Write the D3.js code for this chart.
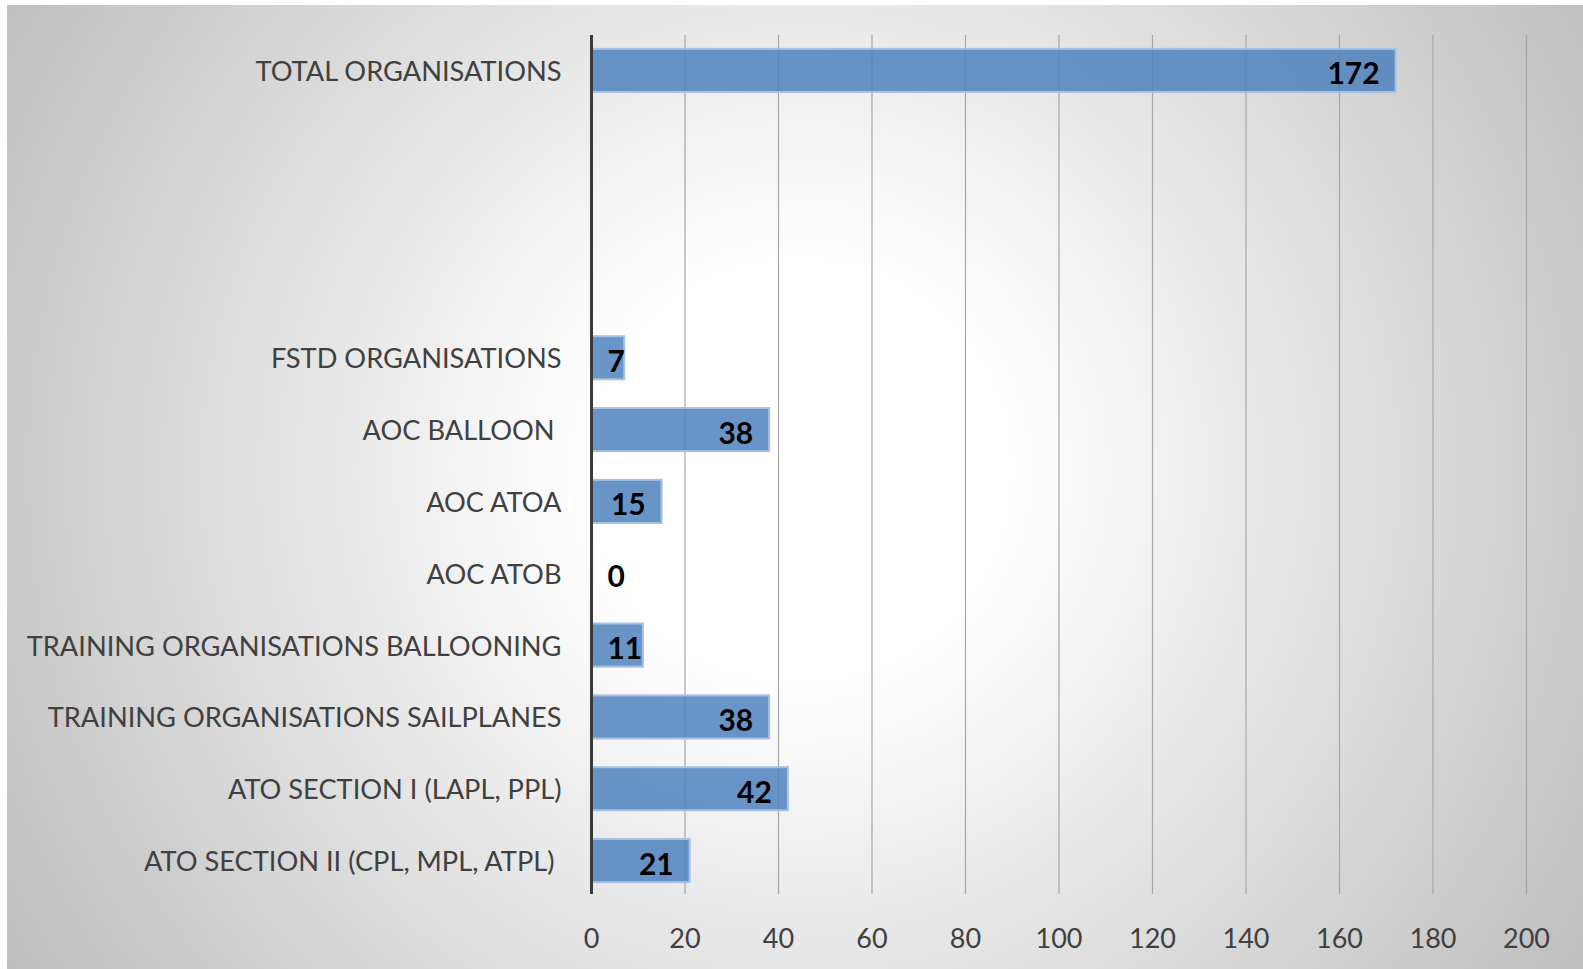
<!DOCTYPE html>
<html>
<head>
<meta charset="utf-8">
<script src="https://cdn.jsdelivr.net/npm/d3@7"></script>
<style>
  html, body { margin: 0; padding: 0; background: #fff; }
  svg { display: block; }
  text { white-space: pre; }
</style>
</head>
<body>
<div id="chart"></div>
<script>
// categories top to bottom (blank rows are empty categories in the source sheet)
var categories = [
  "TOTAL ORGANISATIONS",
  "", "", "",
  "FSTD ORGANISATIONS",
  "AOC BALLOON ",
  "AOC ATOA",
  "AOC ATOB",
  "TRAINING ORGANISATIONS BALLOONING",
  "TRAINING ORGANISATIONS SAILPLANES",
  "ATO SECTION I (LAPL, PPL)",
  "ATO SECTION II (CPL, MPL, ATPL) "
];
var values = [172, null, null, null, 7, 38, 15, 0, 11, 38, 42, 21];
var ticks = [0, 20, 40, 60, 80, 100, 120, 140, 160, 180, 200];

var width = 1583;
var height = 969;
var fontFamily = "Lato, 'Open Sans', sans-serif";

var svg = d3.select("#chart").append("svg")
  .attr("width", width)
  .attr("height", height);

// background with radial gradient like the office chart style
var defs = svg.append("defs");
var grad = defs.append("radialGradient")
  .attr("id", "bg")
  .attr("gradientUnits", "userSpaceOnUse")
  .attr("cx", 800).attr("cy", 470).attr("r", 950);
grad.append("stop").attr("offset", "0").attr("stop-color", "#ffffff");
grad.append("stop").attr("offset", "0.22").attr("stop-color", "#ffffff");
grad.append("stop").attr("offset", "1").attr("stop-color", "#bcbcbc");

svg.append("rect")
  .attr("x", 7).attr("y", 5)
  .attr("width", width - 7).attr("height", height - 5)
  .attr("fill", "url(#bg)");

var x = d3.scaleLinear().domain([0, 200]).range([591.5, 1526.5]);
var y = d3.scaleBand()
  .domain(d3.range(categories.length))
  .range([34.5, 896.5])
  .paddingInner(0.4)
  .paddingOuter(0.2);

// vertical gridlines
svg.append("g")
  .selectAll("line")
  .data(ticks.slice(1))
  .join("line")
  .attr("x1", d => x(d)).attr("x2", d => x(d))
  .attr("y1", 35).attr("y2", 894)
  .attr("stroke", "#a6a6a6")
  .attr("stroke-width", 1.2);

// x tick labels
svg.append("g")
  .selectAll("text")
  .data(ticks)
  .join("text")
  .attr("x", d => x(d))
  .attr("y", 937)
  .attr("text-anchor", "middle")
  .attr("dominant-baseline", "central")
  .attr("font-family", fontFamily)
  .attr("font-size", 27)
  .attr("fill", "#404040")
  .text(d => d);

// bars
var rows = categories.map((c, i) => ({ i: i, name: c, value: values[i] }))
  .filter(d => d.value !== null);

svg.append("g")
  .selectAll("rect")
  .data(rows.filter(d => d.value > 0))
  .join("rect")
  .attr("x", x(0))
  .attr("y", d => y(d.i))
  .attr("width", d => x(d.value) - x(0))
  .attr("height", y.bandwidth())
  .attr("fill", "rgba(79,129,189,0.85)")
  .attr("stroke", "#a7c1e2")
  .attr("stroke-width", 2);

// category labels
var catLabels = svg.append("g")
  .selectAll("text")
  .data(categories.map((c, i) => ({ i: i, name: c })).filter(d => d.name !== ""))
  .join("text")
  .attr("x", x(0) - 30)
  .attr("y", d => y(d.i) + y.bandwidth() / 2)
  .attr("text-anchor", "end")
  .attr("dominant-baseline", "central")
  .attr("font-family", fontFamily)
  .attr("font-size", 26)
  .attr("fill", "#404040")
  .text(d => d.name);

// fit label font so the longest label spans like the reference (~535px)
var longest = catLabels.filter(d => d.name === "TRAINING ORGANISATIONS BALLOONING").node();
var w = longest.getComputedTextLength();
var fs = 26 * 535 / w;
catLabels.attr("font-size", fs);

// value labels, inside end of each bar
var valLabels = svg.append("g")
  .selectAll("text")
  .data(rows)
  .join("text")
  .attr("y", d => y(d.i) + y.bandwidth() / 2 + 2)
  .attr("text-anchor", "end")
  .attr("dominant-baseline", "central")
  .attr("font-family", fontFamily)
  .attr("font-size", fs * 1.1)
  .attr("font-weight", "bold")
  .attr("fill", "#000")
  .text(d => d.value);

valLabels.each(function (d) {
  var tw = this.getComputedTextLength();
  var end = Math.max(x(d.value) - 16, x(0) + 16 + tw);
  d3.select(this).attr("x", end);
});

// vertical axis line
svg.append("line")
  .attr("x1", x(0)).attr("x2", x(0))
  .attr("y1", 35).attr("y2", 894)
  .attr("stroke", "#3a3a3a")
  .attr("stroke-width", 3);
</script>
</body>
</html>
